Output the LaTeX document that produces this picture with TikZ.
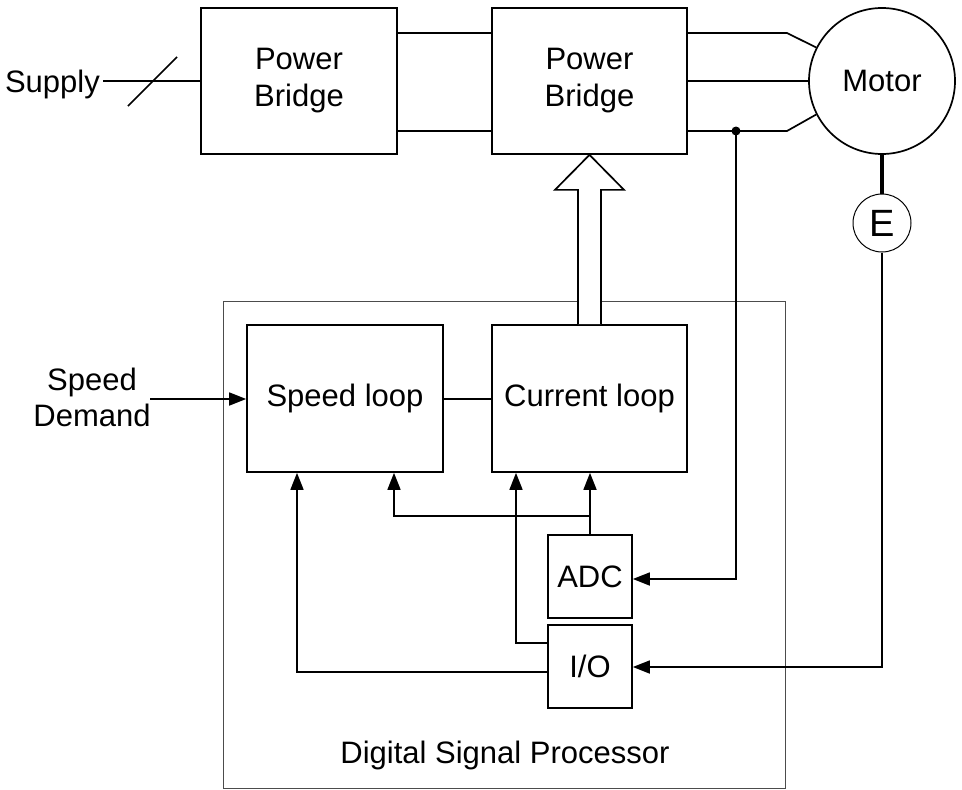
\documentclass[tikz,border=0pt]{standalone}
\usepackage{fontspec}
\setmainfont{Liberation Sans}
\usetikzlibrary{arrows.meta,calc}
\tikzset{
  ln/.style={line width=1.7pt, line join=miter},
  box/.style={draw, ln, inner sep=0pt, align=center, font=\fontsize{31}{37}\selectfont},
  txt/.style={inner sep=0pt, font=\fontsize{31}{36}\selectfont},
  arr/.style={ln, -{Triangle[length=17pt,width=13pt]}},
}
\begin{document}
\begin{tikzpicture}[x=1pt,y=-1pt]
\useasboundingbox (0,0) rectangle (962,790);
% DSP container
\node[draw, line width=1pt, draw=black!70, minimum width=562pt, minimum height=487pt, inner sep=0pt] (dsp) at (504,544.5) {};
\node[txt, anchor=base] (dsplabel) at (505,763) {Digital Signal Processor};
% top row
\node[box, minimum width=196pt, minimum height=146pt] (pb1) at (299,81) {Power\\Bridge};
\node[box, minimum width=195pt, minimum height=146pt] (pb2) at (589.5,81) {Power\\Bridge};
\node[draw, ln, circle, minimum size=146pt, inner sep=0pt, font=\fontsize{31}{36}\selectfont] (motor) at (882,81) {Motor};
\node[draw, line width=1pt, circle, minimum size=58pt, inner sep=0pt, font=\fontsize{38}{40}\selectfont] (enc) at (882,223) {E};
% inner blocks
\node[box, minimum width=196pt, minimum height=147pt] (sl) at (345,398.5) {Speed loop};
\node[box, minimum width=195pt, minimum height=147pt] (cl) at (589.5,398.5) {Current loop};
\node[box, minimum width=84pt, minimum height=83pt] (adc) at (590,576.5) {ADC};
\node[box, minimum width=84pt, minimum height=83pt] (io) at (590,666.5) {I/O};
% supply
\node[txt, anchor=base east] (supply) at (100,92) {Supply};
\path (supply.base east) ++(3,-11) coordinate (s0);
\draw[ln] (s0) -- (s0 -| pb1.west);
\draw[ln] (128,106) -- (177,57);
% bridge to bridge
\draw[ln] (pb1.east |- 0,33) -- (pb2.west |- 0,33);
\draw[ln] (pb1.east |- 0,131) -- (pb2.west |- 0,131);
% bridge to motor
\draw[ln] (pb2.east |- 0,33) -- (787,33) -- (motor.153);
\draw[ln] (pb2.east |- 0,81) -- (motor.west);
\draw[ln] (pb2.east |- 0,131) -- (787,131) -- (motor.207);
% encoder shaft
\draw[line width=4pt] (motor.south) -- (enc.north);
% hollow arrow
\draw[ln, fill=white] ($(cl.north)+(-11.5,0)$) -- ($(pb2.south)+(-11.5,35)$) -- ($(pb2.south)+(-34.5,35)$) -- (pb2.south) -- ($(pb2.south)+(34.5,35)$) -- ($(pb2.south)+(11.5,35)$) -- ($(cl.north)+(11.5,0)$);
% current sense
\coordinate (j) at (736,131);
\fill (j) circle (4.5);
\draw[arr] (j) -- (j |- 0,579) -- (adc.east |- 0,579);
% encoder to I/O
\draw[arr] (enc.south) -- (enc.south |- 0,667) -- (io.east |- 0,667);
% speed demand
\node[txt, align=center] (sd) at (92,397) {Speed\\Demand};
\coordinate (sdin) at (150,399);
\draw[arr] (sdin) -- (sdin -| sl.west);
% speed loop to current loop
\draw[ln] (sl.east |- 0,399) -- (cl.west |- 0,399);
% ADC feedbacks
\draw[arr] (adc.north) -- (adc.north |- cl.south);
\coordinate (b1) at (394,516);
\draw[arr] (adc.north |- b1) -- (b1) -- (b1 |- sl.south);
% I/O feedbacks
\coordinate (c1) at (516,643);
\draw[arr] (io.west |- c1) -- (c1) -- (c1 |- cl.south);
\coordinate (c2) at (297,672);
\draw[arr] (io.west |- c2) -- (c2) -- (c2 |- sl.south);
\end{tikzpicture}
\end{document}
